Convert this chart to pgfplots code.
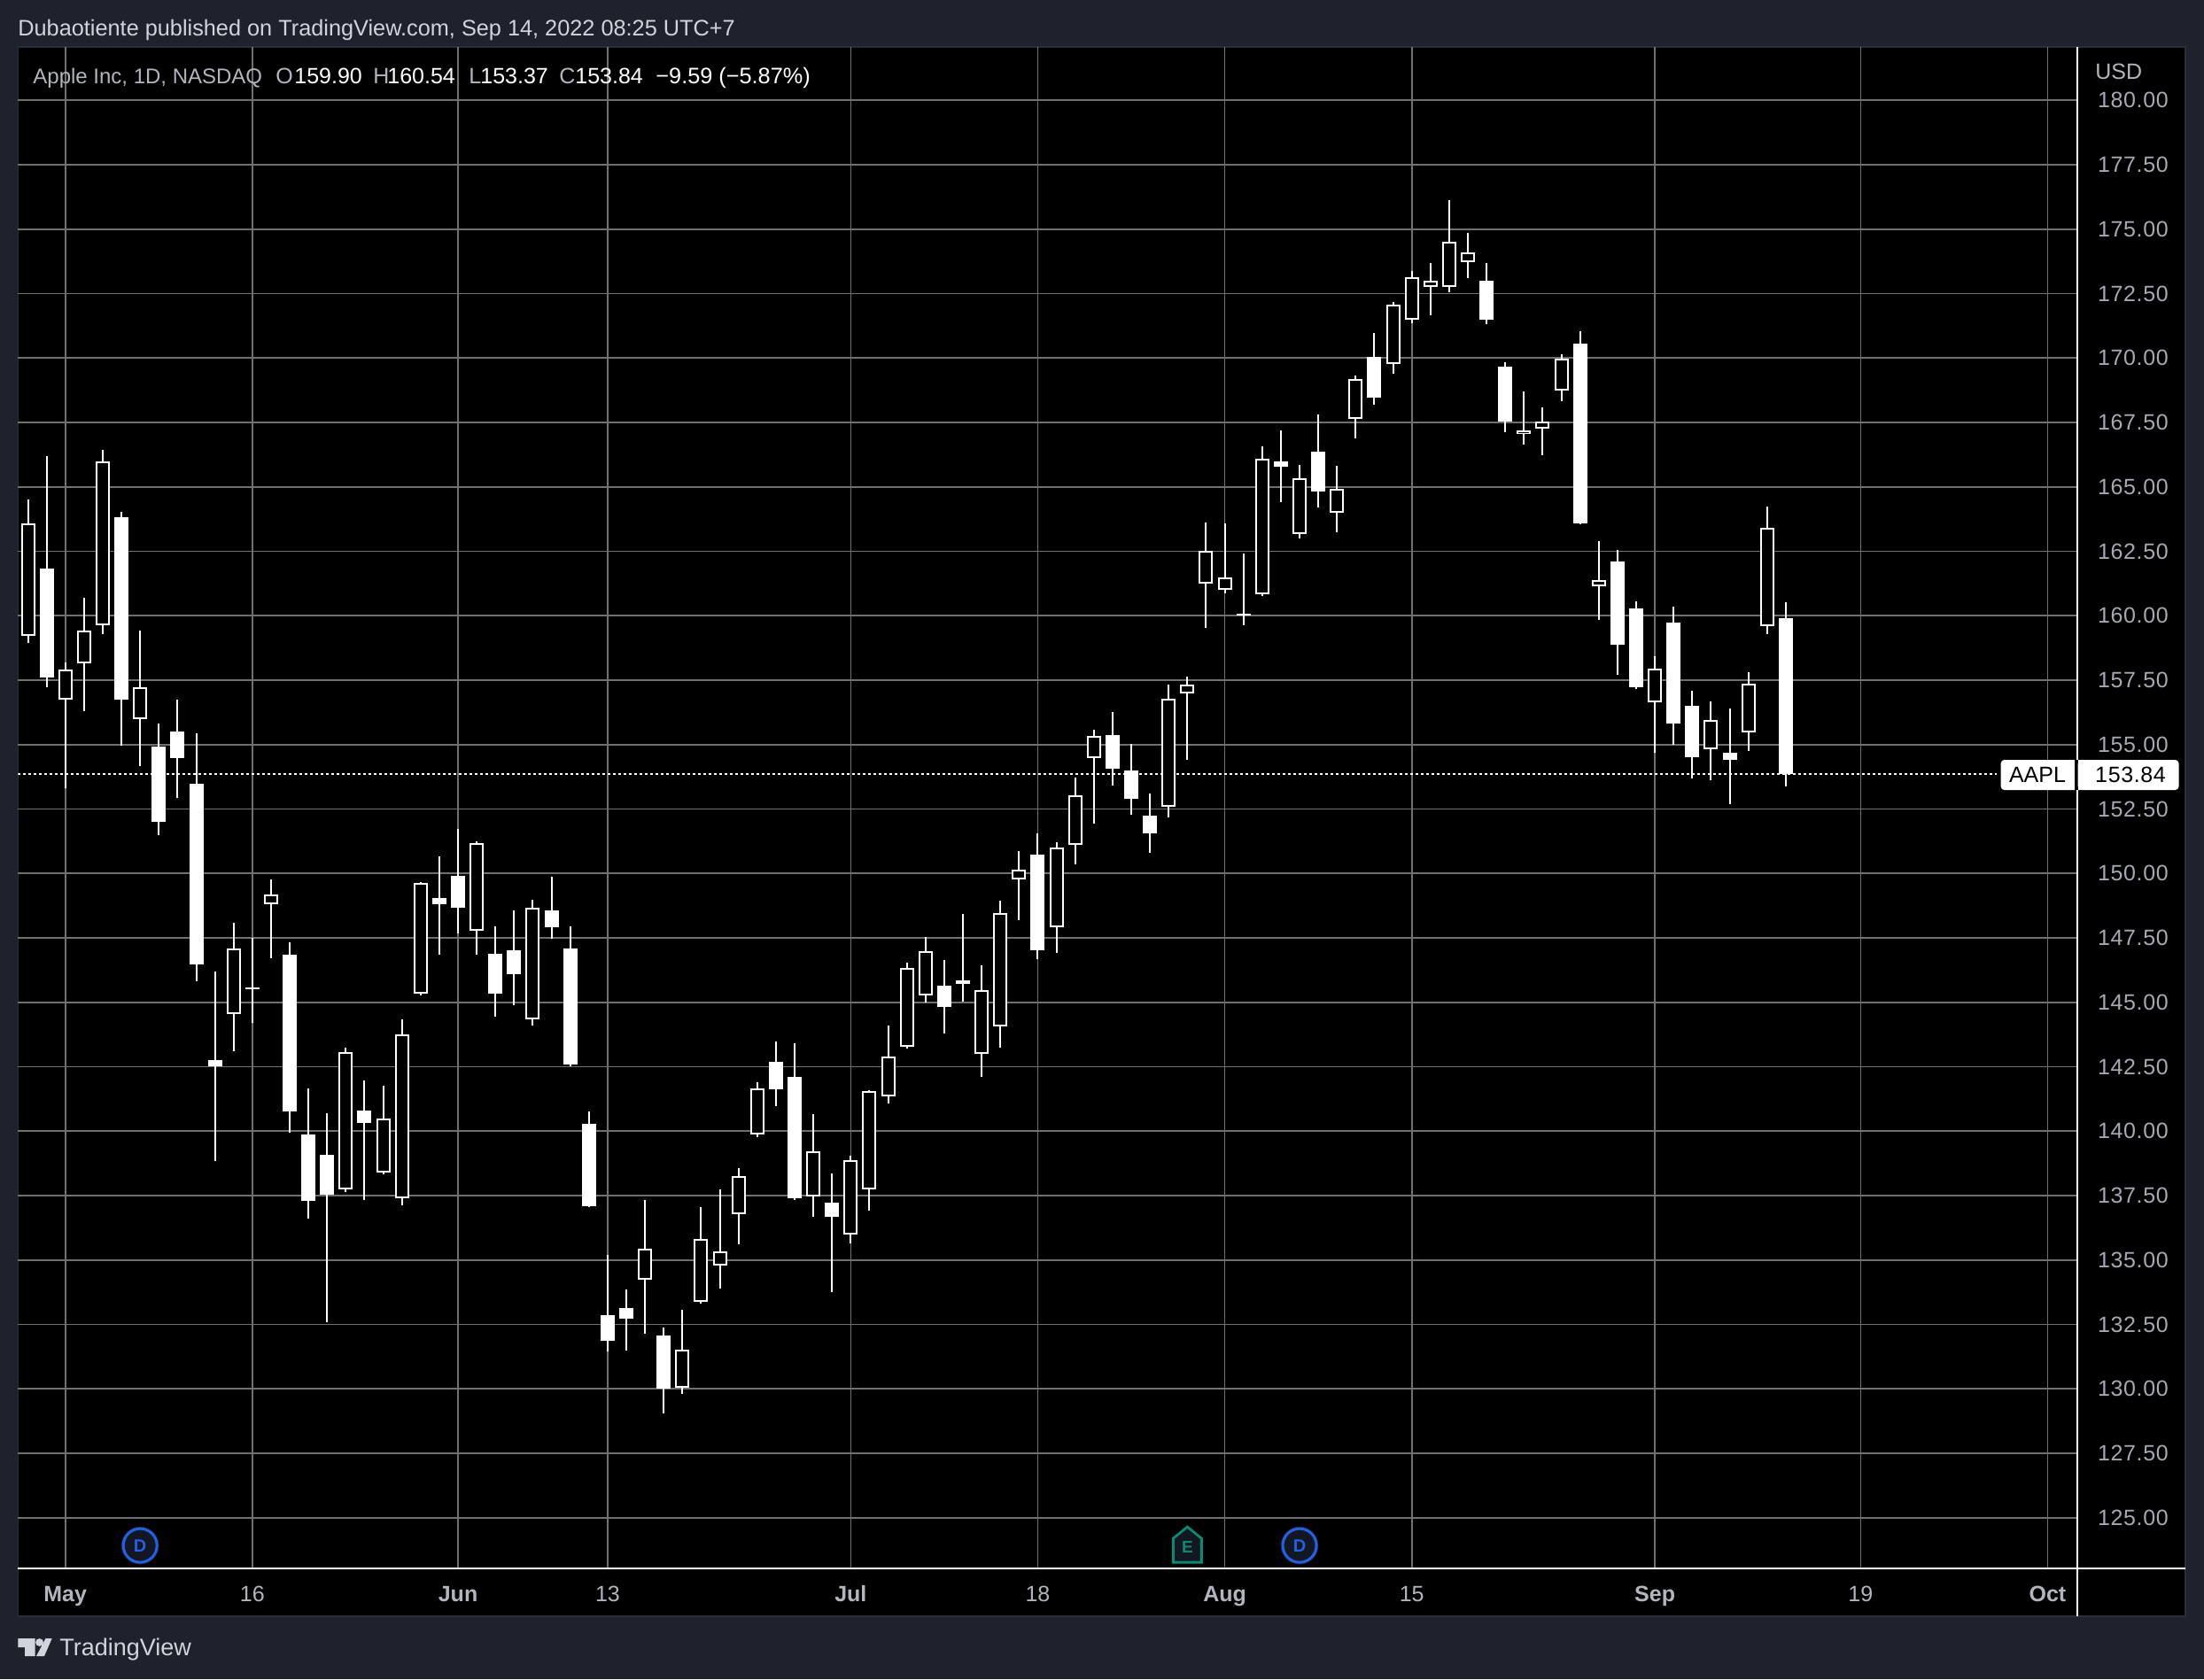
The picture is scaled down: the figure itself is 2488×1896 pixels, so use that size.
\documentclass[border=0pt]{standalone}
\usepackage{fontspec}
\setmainfont{Liberation Sans}
\newfontfamily\scalefont[LetterSpace=2.5]{Liberation Sans}
\usepackage{pgfplots}
\usepackage{pgfplotstable}
\pgfplotsset{compat=1.18}

\definecolor{panel}{HTML}{1E222D}
\definecolor{edge}{HTML}{2A2E39}
\definecolor{gridc}{HTML}{707070}
\definecolor{scale}{HTML}{A6A9B2}
\definecolor{head}{HTML}{D1D4DC}
\definecolor{muted}{HTML}{B2B5BE}
\definecolor{divblue}{HTML}{2160E8}
\definecolor{earn}{HTML}{0B8A72}
\definecolor{badge}{HTML}{131722}

% columns: bar number, open, high, low, close (bars counted from Apr 28)
\pgfplotstableread{
i open high low close
1 159.23 164.50 158.94 163.59
3 156.73 158.19 153.29 157.91
4 158.14 160.69 156.29 159.44
5 159.64 166.44 159.28 166.00
7 155.98 159.42 154.18 157.23
12 144.56 148.09 143.10 147.07
14 148.82 149.78 146.70 149.18
18 137.74 143.24 137.63 143.08
20 138.40 141.75 138.31 140.50
21 137.38 144.33 137.13 143.76
22 145.33 149.66 145.26 149.62
25 147.79 151.24 146.84 151.19
28 144.33 148.98 144.10 148.68
34 134.25 137.33 132.13 135.42
36 130.03 133.06 129.79 131.53
37 133.39 137.06 133.30 135.83
38 134.77 137.74 133.88 135.32
39 136.79 138.57 135.60 138.24
40 139.88 141.90 139.77 141.65
43 137.45 140.66 136.68 139.20
45 136.00 139.05 135.64 138.89
46 137.75 141.59 136.92 141.54
47 141.34 144.10 141.07 142.88
48 143.26 146.55 143.20 146.33
49 145.25 147.54 145.00 147.00
52 142.98 146.44 142.11 145.46
53 144.05 148.95 143.25 148.46
54 149.75 150.87 148.19 150.13
56 147.91 151.22 146.93 151.00
57 151.09 153.73 150.35 153.02
58 154.46 155.58 151.94 155.33
62 152.58 157.34 152.17 156.78
63 156.98 157.65 154.42 157.32
64 161.23 163.63 159.51 162.51
65 161.00 163.59 160.87 161.48
67 160.82 166.56 160.75 166.10
69 163.18 165.86 163.00 165.32
71 163.99 165.81 163.25 164.91
72 167.65 169.32 166.88 169.19
74 169.78 172.16 169.39 172.08
75 171.49 173.36 171.34 173.15
76 172.74 173.67 171.65 173.00
77 172.74 176.12 172.54 174.51
78 173.72 174.87 173.10 174.10
81 167.04 168.70 166.65 167.20
82 167.27 168.07 166.24 167.52
83 168.75 170.14 168.32 169.99
85 161.13 162.90 159.82 161.38
88 156.63 158.41 154.67 157.95
91 154.81 156.68 153.63 155.94
93 155.47 157.82 154.76 157.36
94 159.59 164.23 159.29 163.40
}\upbars

\pgfplotstableread{
i open high low close
2 161.83 166.19 157.23 157.59
6 163.81 164.04 154.95 156.73
8 154.93 155.82 151.49 152.01
9 155.50 156.75 152.92 154.47
10 153.47 155.43 145.81 146.47
11 142.76 146.20 138.84 142.51
13 145.58 147.50 144.19 145.49
15 146.84 147.34 139.93 140.77
16 139.86 141.64 136.60 137.29
17 139.09 140.71 132.59 137.54
19 140.80 141.96 137.33 140.32
23 149.05 150.67 146.84 148.80
24 149.91 151.74 147.68 148.66
26 146.88 147.95 144.44 145.33
27 147.02 148.57 144.88 146.08
29 148.57 149.87 147.47 147.91
30 147.09 147.95 142.51 142.58
31 140.27 140.78 137.04 137.08
32 132.86 135.19 131.44 131.85
33 133.13 133.87 131.50 132.72
35 132.07 132.39 129.04 130.00
41 142.69 143.48 140.97 141.62
42 142.11 143.42 137.33 137.39
44 137.23 138.35 133.76 136.68
50 145.65 146.64 143.80 144.83
51 145.85 148.44 145.03 145.71
55 150.73 151.57 146.67 147.02
59 155.38 156.27 153.42 154.07
60 154.00 155.03 152.29 152.90
61 152.25 153.09 150.81 151.57
66 160.08 162.41 159.64 160.00
68 165.99 167.19 164.41 165.78
70 166.37 167.81 164.20 164.82
73 170.04 170.96 168.19 168.45
79 173.01 173.70 171.31 171.47
80 169.67 169.83 167.12 167.53
84 170.55 171.03 163.54 163.59
86 162.12 162.56 157.72 158.88
87 160.29 160.57 157.14 157.21
89 159.74 160.36 154.98 155.80
90 156.49 157.09 153.70 154.50
92 154.67 156.39 152.68 154.42
95 159.90 160.54 153.37 153.84
}\downbars

\pgfdeclareplotmark{earnhouse}{%
  \pgfpathmoveto{\pgfpoint{-8pt}{-9.5pt}}
  \pgfpathlineto{\pgfpoint{8pt}{-9.5pt}}
  \pgfpathlineto{\pgfpoint{8pt}{4pt}}
  \pgfpathlineto{\pgfpoint{0pt}{10.5pt}}
  \pgfpathlineto{\pgfpoint{-8pt}{4pt}}
  \pgfpathclose
  \pgfusepathqfillstroke
}

\newcommand{\fs}[1]{\fontsize{#1}{#1}\selectfont}

\begin{document}
\begin{tikzpicture}
% background, in reference pixels from the top left
\begin{scope}[x=0.5pt,y=-0.5pt]
\path[use as bounding box, fill=panel] (0,0) rectangle (2488,1896);
\fill[black] (20.4,53) rectangle (2467,1825);
\draw[edge, line width=0.8pt] (20.4,53) rectangle (2467,1825);
\end{scope}

\begin{axis}[
    at={(10.2pt,-885.35pt)}, anchor=south west,
    scale only axis,
    width=1162.3pt, height=858.85pt,
    xmin=0.474, xmax=110.59,
    ymin=123.04, ymax=182.07,
    axis line style={draw=none},
    major tick length=0pt,
    xtick={3,13,24,32,45,55,65,75,88,99,109},
    xticklabels={\textbf{May},16,\textbf{Jun},13,\textbf{Jul},18,\textbf{Aug},15,\textbf{Sep},19,\textbf{Oct}},
    ytick={125,127.5,130,132.5,135,137.5,140,142.5,145,147.5,150,152.5,155,157.5,160,162.5,165,167.5,170,172.5,175,177.5,180},
    yticklabel pos=right,
    scaled y ticks=false,
    /pgf/number format/.cd, fixed, fixed zerofill, precision=2, 1000 sep={}, assume math mode=true,
    /pgfplots/.cd,
    xticklabel style={font=\fs{12.5}, anchor=base, yshift=-19pt, text=muted},
    yticklabel style={font=\scalefont\fs{12.5}, text=scale, anchor=west, xshift=8pt},
    xmajorgrids, ymajorgrids,
    x grid style={gridc, line width=0.85pt},
    y grid style={gridc, line width=0.85pt},
    wick/.style={draw=none, forget plot, error bars/.cd, y dir=plus, y explicit, error mark=none,
        error bar style={white, line width=1pt, line cap=butt}},
    body/.style={draw=none, forget plot, error bars/.cd, y dir=plus, y explicit, error mark=none,
        error bar style={white, line width=8pt, line cap=butt}},
    inner/.style={draw=none, forget plot, error bars/.cd, y dir=plus, y explicit, error mark=none,
        error bar style={black, line width=6pt, line cap=butt}},
]
% last price line
\addplot[white, line width=1pt, dash pattern=on 1.25pt off 1.75pt, forget plot]
    coordinates {(0.474,153.84) (106.3,153.84)};

% wicks
\addplot[wick] table[x=i, y=low, y error plus expr=\thisrow{high}-\thisrow{low}] {\upbars};
\addplot[wick] table[x=i, y=low, y error plus expr=\thisrow{high}-\thisrow{low}] {\downbars};
% bodies: falling bars are solid, rising bars hollow
\addplot[body] table[x=i, y=close, y error plus expr=\thisrow{open}-\thisrow{close}] {\downbars};
\addplot[body] table[x=i, y=open, y error plus expr=\thisrow{close}-\thisrow{open}] {\upbars};
\addplot[inner] table[x=i, y expr=\thisrow{open}+0.069, y error plus expr=\thisrow{close}-\thisrow{open}-0.138] {\upbars};

% dividend and earnings badges
\addplot[only marks, mark=*, mark size=10.9pt, mark options={draw=none, fill=panel}, forget plot]
    coordinates {(7,123.92) (69,123.92)};
\addplot[only marks, mark=*, mark size=9.5pt, mark options={draw=divblue, fill=badge, line width=1.5pt},
    nodes near coords={D}, every node near coord/.append style={anchor=center, text=divblue, font=\fs{10}\bfseries},
    forget plot]
    coordinates {(7,123.92) (69,123.92)};
\addplot[only marks, mark=earnhouse, mark options={draw=earn, fill=badge, line width=1.4pt},
    nodes near coords={E}, every node near coord/.append style={anchor=center, yshift=-1pt, text=earn, font=\fs{9.5}\bfseries},
    forget plot]
    coordinates {(63,123.92)};
\end{axis}

\begin{scope}[x=0.5pt,y=-0.5pt]
% scale borders
\draw[white, line width=1pt] (2345,53) -- (2345,1825);
\draw[white, line width=1pt] (20.4,1770.7) -- (2467,1770.7);

% header and legend
\node[anchor=base west, inner sep=0, text=head, font=\fs{12.65}] at (20,40.5) {Dubaotiente published on TradingView.com, Sep 14, 2022 08:25 UTC+7};
\node[anchor=base west, inner sep=0, text=muted, font=\fs{12}] at (37,94.5) {Apple Inc, 1D, NASDAQ};
\node[anchor=base west, inner sep=0, text=muted, font=\fs{12.5}] at (311,94.5) {O};
\node[anchor=base west, inner sep=0, text=white, font=\fs{12.5}] at (332,94.5) {159.90};
\node[anchor=base west, inner sep=0, text=muted, font=\fs{12.5}] at (421,94.5) {H};
\node[anchor=base west, inner sep=0, text=white, font=\fs{12.5}] at (437,94.5) {160.54};
\node[anchor=base west, inner sep=0, text=muted, font=\fs{12.5}] at (529,94.5) {L};
\node[anchor=base west, inner sep=0, text=white, font=\fs{12.5}] at (542,94.5) {153.37};
\node[anchor=base west, inner sep=0, text=muted, font=\fs{12.5}] at (631,94.5) {C};
\node[anchor=base west, inner sep=0, text=white, font=\fs{12.5}] at (649,94.5) {153.84};
\node[anchor=base west, inner sep=0, text=white, font=\fs{12.65}] at (740,94.5) {−9.59 (−5.87\%)};
\node[anchor=base west, inner sep=0, text=muted, font=\fs{12.5}] at (2365,89) {USD};

% price tags
\fill[white, rounded corners=2pt] (2258.6,858) rectangle (2352,892);
\fill[black] (2342,858) rectangle (2345.7,892);
\fill[white, rounded corners=2pt] (2345.7,858) rectangle (2459.5,892);
\fill[white] (2345.7,858) rectangle (2355,892);
\node[text=black, font=\fs{12.5}] at (2300,875) {AAPL};
\node[text=black, font=\scalefont\fs{12.5}] at (2405,875) {153.84};

% footer logo
\fill[head] (20.4,1850) -- (39.5,1850) -- (39.5,1870) -- (28,1870) -- (28,1860) -- (20.4,1860) -- cycle;
\fill[head] (44.6,1854.5) circle (4.4);
\fill[head] (51.5,1850) -- (58.7,1850) -- (50,1870) -- (41,1870) -- cycle;
\node[anchor=west, inner sep=0, text=head, font=\fs{13.5}] at (67,1862) {TradingView};
\end{scope}
\end{tikzpicture}
\end{document}
